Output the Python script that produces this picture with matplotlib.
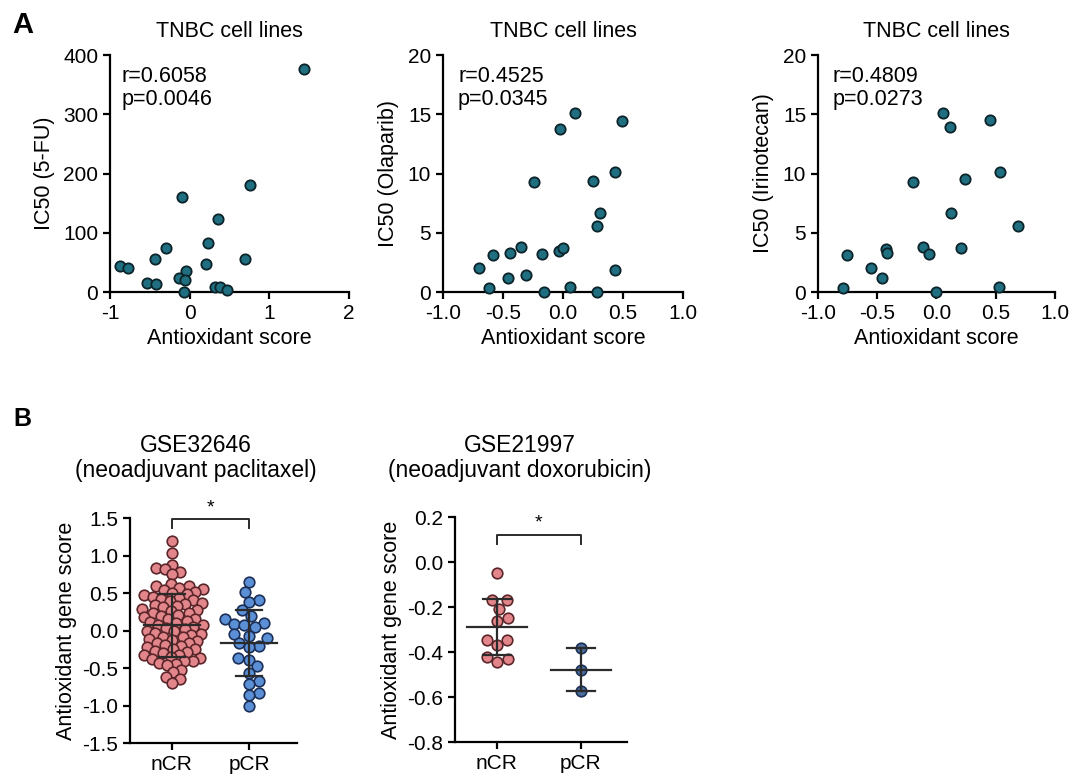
import numpy as np
import matplotlib
matplotlib.use('Agg')
import matplotlib.pyplot as plt

plt.rcParams['font.family'] = ['Liberation Sans', 'DejaVu Sans']
plt.rcParams['axes.unicode_minus'] = False

# ---- panel A: TNBC cell lines (antioxidant score vs IC50) ----
x_5fu = [1.43, 0.76, -0.09, 0.36, 0.23, -0.30, -0.43, 0.20, 0.70, -0.88,
         -0.77, -0.53, -0.42, -0.05, -0.13, -0.06, -0.07, 0.32, 0.38, 0.47]
y_5fu = [377, 180, 160, 123, 83, 75, 55, 48, 55, 44,
         41, 15, 14, 35, 23, 20, 0, 8, 8, 3]

x_ola = [0.49, 0.10, -0.025, -0.24, 0.25, 0.43, 0.31, 0.28, -0.70, -0.58, -0.44,
         -0.35, -0.175, -0.03, 0.0, -0.46, -0.31, 0.43, -0.62, -0.155, 0.06, 0.28]
y_ola = [14.4, 15.1, 13.8, 9.3, 9.4, 10.1, 6.7, 5.6, 2.05, 3.1, 3.3,
         3.8, 3.2, 3.5, 3.7, 1.2, 1.4, 1.9, 0.35, 0, 0.4, 0]

x_iri = [0.056, 0.118, 0.45, -0.20, 0.24, 0.54, 0.12, 0.69, -0.755, -0.43,
         -0.415, -0.11, -0.065, 0.21, -0.55, -0.46, -0.79, 0.0, 0.53]
y_iri = [15.1, 13.9, 14.5, 9.3, 9.5, 10.1, 6.7, 5.6, 3.1, 3.6,
         3.3, 3.8, 3.2, 3.7, 2.05, 1.2, 0.35, 0, 0.4]

stats_a = ['r=0.6058\np=0.0046', 'r=0.4525\np=0.0345', 'r=0.4809\np=0.0273']
ylabels_a = ['IC50 (5-FU)', 'IC50 (Olaparib)', 'IC50 (Irinotecan)']

# ---- panel B: response groups ----
groups = ['nCR', 'pCR']
ncr_32646 = [1.20, 1.03, 0.88, 0.83, 0.82, 0.78, 0.76,
             0.62, 0.60, 0.59, 0.57, 0.55, 0.54, 0.52, 0.50, 0.49, 0.47,
             0.45, 0.44, 0.42, 0.41, 0.39, 0.37, 0.36, 0.34, 0.33, 0.31,
             0.29, 0.28, 0.26, 0.24, 0.23, 0.21, 0.19, 0.18, 0.16, 0.15,
             0.13, 0.11, 0.10, 0.08, 0.07, 0.05, 0.03, 0.02, 0.00, -0.01,
             -0.03, -0.04, -0.06, -0.08, -0.09, -0.11, -0.12, -0.14, -0.16,
             -0.17, -0.19, -0.20, -0.22, -0.24, -0.25, -0.27, -0.28, -0.30,
             -0.32, -0.33, -0.35, -0.36, -0.38, -0.40, -0.41, -0.43, -0.44,
             -0.46, -0.53, -0.55, -0.62, -0.65, -0.70]
pcr_32646 = [0.65, 0.51, 0.41, 0.38, 0.27, 0.19, 0.16, 0.10, 0.09, 0.08, 0.05,
             -0.05, -0.07, -0.10, -0.17, -0.20, -0.22, -0.36, -0.39, -0.47,
             -0.56, -0.67, -0.71, -0.83, -0.86, -1.00]
mean_32646 = [0.07, -0.165]
sd_32646 = [0.42, 0.445]

ncr_21997 = [-0.05, -0.17, -0.17, -0.21, -0.25, -0.26, -0.345, -0.345,
             -0.37, -0.42, -0.43, -0.445]
pcr_21997 = [-0.38, -0.48, -0.573]
mean_21997 = [-0.289, -0.478]
sd_21997 = [0.125, 0.097]

teal = '#1f6f80'
pink = '#e3868b'
blue = '#5b8fd6'
navy = '#4a6d99'
line_c = '#2b2b2b'

fig = plt.figure(figsize=(10.75, 7.74), dpi=100)


def style(ax):
    for s in ['top', 'right']:
        ax.spines[s].set_visible(False)
    for s in ['left', 'bottom']:
        ax.spines[s].set_linewidth(1.6)
    ax.tick_params(width=1.6, length=5, labelsize=15)


def swarm(ax, vals, center, d):
    # simple beeswarm: minimum spacing d in pixels
    pos = ax.get_position()
    w = pos.width * fig.get_figwidth() * fig.dpi
    h = pos.height * fig.get_figheight() * fig.dpi
    sx = w / np.diff(ax.get_xlim())[0]
    sy = h / np.diff(ax.get_ylim())[0]
    vals = np.asarray(vals)
    order = np.argsort(vals)
    placed = []
    out = np.zeros(len(vals))
    for i in order:
        yp = vals[i] * sy
        cands = [0.0]
        for px, py in placed:
            dy = yp - py
            if abs(dy) < d:
                dx = np.sqrt(d * d - dy * dy)
                cands += [px + dx, px - dx]
        cands.sort(key=abs)
        for c in cands:
            if all((c - px) ** 2 + (yp - py) ** 2 >= d * d - 1e-6 for px, py in placed):
                break
        placed.append((c, yp))
        out[i] = center + c / sx
    return out


# panel A
pos_a = [[0.1023, 0.6227, 0.2223, 0.3062],
         [0.4121, 0.6227, 0.2233, 0.3062],
         [0.7609, 0.6227, 0.2205, 0.3062]]
data_a = [(x_5fu, y_5fu), (x_ola, y_ola), (x_iri, y_iri)]
text_x = [0.05, 0.0625, 0.06]
for k in range(3):
    ax = fig.add_axes(pos_a[k])
    xs, ys = data_a[k]
    ax.scatter(xs, ys, s=55, color=teal, edgecolor='#0b2329', linewidth=1.3,
               zorder=3, clip_on=False)
    if k == 0:
        ax.set_xlim(-1, 2)
        ax.set_ylim(0, 400)
        ax.set_xticks([-1, 0, 1, 2])
        ax.set_yticks([0, 100, 200, 300, 400])
    else:
        ax.set_xlim(-1, 1)
        ax.set_ylim(0, 20)
        ax.set_xticks([-1, -0.5, 0, 0.5, 1])
        ax.set_xticklabels(['-1.0', '-0.5', '0.0', '0.5', '1.0'])
        ax.set_yticks([0, 5, 10, 15, 20])
    style(ax)
    ax.set_title('TNBC cell lines', fontsize=15.5, pad=13)
    ax.set_xlabel('Antioxidant score', fontsize=15.5, labelpad=4)
    ax.set_ylabel(ylabels_a[k], fontsize=15.5, labelpad=6)
    ax.text(text_x[k], 0.955, stats_a[k], transform=ax.transAxes, va='top',
            ha='left', fontsize=15.5, linespacing=1.15)

# panel B
pos_b = [[0.1209, 0.0400, 0.1553, 0.2907],
         [0.4233, 0.0413, 0.1600, 0.2907]]
data_b = [(ncr_32646, pcr_32646, mean_32646, sd_32646),
          (ncr_21997, pcr_21997, mean_21997, sd_21997)]
lims_b = [((-0.545, 1.62), (-1.5, 1.5)), ((-0.5, 1.55), (-0.8, 0.2))]
ticks_b = [[-1.5, -1.0, -0.5, 0.0, 0.5, 1.0, 1.5],
           [-0.8, -0.6, -0.4, -0.2, 0.0, 0.2]]
bracket_b = [(1.49, 1.37, 1.63), (0.118, 0.078, 0.175)]
titles_b = ['GSE32646\n(neoadjuvant paclitaxel)', 'GSE21997\n(neoadjuvant doxorubicin)']
title_x = [196, 520]
spacing_b = [(8.5, 10.5), (11.5, 11.5)]
fills = [(pink, blue), (pink, navy)]
edges = [('#5a2629', '#1b2f57'), ('#5a2629', '#1b2f57')]

for k in range(2):
    ax = fig.add_axes(pos_b[k])
    ax.set_xlim(*lims_b[k][0])
    ax.set_ylim(*lims_b[k][1])
    ncr, pcr, mu, sd = data_b[k]
    for g, vals in enumerate([ncr, pcr]):
        xs = swarm(ax, vals, g, spacing_b[k][g])
        ax.scatter(xs, vals, s=58, color=fills[k][g], edgecolor=edges[k][g],
                   linewidth=1.2, zorder=2)
        half_m = 0.36
        half_c = 0.17
        ax.plot([g - half_m, g + half_m], [mu[g], mu[g]], color=line_c, lw=1.6, zorder=3)
        ax.plot([g, g], [mu[g] - sd[g], mu[g] + sd[g]], color=line_c, lw=1.6, zorder=3)
        for e in (mu[g] - sd[g], mu[g] + sd[g]):
            ax.plot([g - half_c, g + half_c], [e, e], color=line_c, lw=1.6, zorder=3)
    top, foot, star = bracket_b[k]
    ax.plot([0, 0, 1, 1], [foot, top, top, foot], color=line_c, lw=1.4, clip_on=False)
    ax.text(0.5, star, '*', ha='center', va='center', fontsize=14)
    ax.set_xticks([0, 1])
    ax.set_xticklabels(groups)
    ax.set_yticks(ticks_b[k])
    ax.set_yticklabels(['%.1f' % t for t in ticks_b[k]])
    style(ax)
    ax.set_ylabel('Antioxidant gene score', fontsize=15.5, labelpad=4)
    fig.text(title_x[k] / 1075, 1 - 458 / 774, titles_b[k], ha='center', va='center',
             fontsize=16.5, linespacing=1.1)

fig.text(12 / 1075, 1 - 25 / 774, 'A', fontsize=21, fontweight='bold', va='center')
fig.text(13 / 1075, 1 - 419 / 774, 'B', fontsize=18, fontweight='bold', va='center')

fig.savefig('out.png', dpi=100)
